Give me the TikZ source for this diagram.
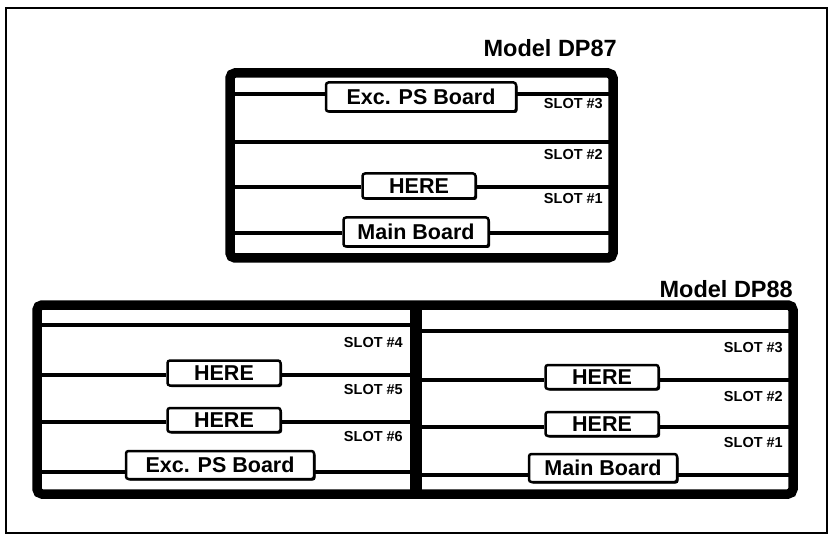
\documentclass[tikz,border=0pt]{standalone}
\usepackage{fontspec}
\setmainfont{Liberation Sans}
\usetikzlibrary{shadows}
\begin{document}
\begin{tikzpicture}[x=1pt,y=-1pt,
  frame/.style={line width=9.5pt,rounded corners=5pt},
  slotline/.style={line width=4pt},
  board/.style={draw,line width=2.5pt,fill=white,rounded corners=2.5pt,inner sep=0pt,
     font=\bfseries\fontsize{21.5}{21.5}\selectfont,
     general shadow={fill=black,shadow xshift=1.5pt,shadow yshift=-1.5pt}},
  slotlabel/.style={anchor=east,inner sep=0pt,font=\bfseries\fontsize{14.5}{14.5}\selectfont},
  title/.style={anchor=east,inner sep=0pt,font=\bfseries\fontsize{23.5}{23.5}\selectfont}]
\useasboundingbox (0,0) rectangle (832,537);
% outer thin frame
\draw[line width=2.5pt] (6,8) rectangle (827,533);

% ===== Model DP87 =====
\node[title] (t87) at (617,48) {Model DP87};
\draw[frame] (230,73) rectangle (613,258);
\coordinate (a87l) at (230,94);  \coordinate (a87r) at (613,94);
\coordinate (b87l) at (230,142); \coordinate (b87r) at (613,142);
\coordinate (c87l) at (230,187); \coordinate (c87r) at (613,187);
\coordinate (d87l) at (230,233); \coordinate (d87r) at (613,233);
\node[board,minimum width=190pt,minimum height=29pt] (exc87) at (421,97) {Exc. PS Board};
\node[board,minimum width=113pt,minimum height=25pt] (here87) at (419,186) {HERE};
\node[board,minimum width=145pt,minimum height=29pt] (main87) at (416,232) {Main Board};
\draw[slotline] (a87l) -- (exc87.west |- a87l);
\draw[slotline] (exc87.east |- a87r) -- (a87r);
\draw[slotline] (b87l) -- (b87r);
\draw[slotline] (c87l) -- (here87.west |- c87l);
\draw[slotline] (here87.east |- c87r) -- (c87r);
\draw[slotline] (d87l) -- (main87.west |- d87l);
\draw[slotline] (main87.east |- d87r) -- (d87r);
\node[slotlabel] (s873) at (603,104) {SLOT \#3};
\node[slotlabel] (s872) at (603,155) {SLOT \#2};
\node[slotlabel] (s871) at (603,199) {SLOT \#1};

% ===== Model DP88 =====
\node[title] (t88) at (793,289) {Model DP88};
\draw[frame] (37,305) rectangle (793,494);
\draw[line width=12pt] (416,305) -- (416,494);
% left half
\coordinate (a88l) at (37,325);  \coordinate (a88m) at (416,325);
\coordinate (b88l) at (37,375);  \coordinate (b88m) at (416,375);
\coordinate (c88l) at (37,422);  \coordinate (c88m) at (416,422);
\coordinate (d88l) at (37,472);  \coordinate (d88m) at (416,472);
\node[board,minimum width=113pt,minimum height=25pt] (here885) at (224,373) {HERE};
\node[board,minimum width=113pt,minimum height=24pt] (here886) at (224,420) {HERE};
\node[board,minimum width=188pt,minimum height=28pt] (exc88) at (220,465) {Exc. PS Board};
\draw[slotline] (a88l) -- (a88m);
\draw[slotline] (b88l) -- (here885.west |- b88l);
\draw[slotline] (here885.east |- b88m) -- (b88m);
\draw[slotline] (c88l) -- (here886.west |- c88l);
\draw[slotline] (here886.east |- c88m) -- (c88m);
\draw[slotline] (d88l) -- (exc88.west |- d88l);
\draw[slotline] (exc88.east |- d88m) -- (d88m);
\node[slotlabel] (s884) at (403,343) {SLOT \#4};
\node[slotlabel] (s885) at (403,390) {SLOT \#5};
\node[slotlabel] (s886) at (403,437) {SLOT \#6};
% right half
\coordinate (a88n) at (416,331);  \coordinate (a88r) at (793,331);
\coordinate (b88n) at (416,380);  \coordinate (b88r) at (793,380);
\coordinate (c88n) at (416,427);  \coordinate (c88r) at (793,427);
\coordinate (d88n) at (416,475);  \coordinate (d88r) at (793,475);
\node[board,minimum width=113pt,minimum height=24pt] (here882) at (602,377) {HERE};
\node[board,minimum width=113pt,minimum height=24pt] (here881) at (602,424) {HERE};
\node[board,minimum width=148pt,minimum height=28pt] (main88) at (603,468) {Main Board};
\draw[slotline] (a88n) -- (a88r);
\draw[slotline] (b88n) -- (here882.west |- b88n);
\draw[slotline] (here882.east |- b88r) -- (b88r);
\draw[slotline] (c88n) -- (here881.west |- c88n);
\draw[slotline] (here881.east |- c88r) -- (c88r);
\draw[slotline] (d88n) -- (main88.west |- d88n);
\draw[slotline] (main88.east |- d88r) -- (d88r);
\node[slotlabel] (s883) at (783,348) {SLOT \#3};
\node[slotlabel] (s882) at (783,397) {SLOT \#2};
\node[slotlabel] (s881) at (783,443) {SLOT \#1};
\end{tikzpicture}
\end{document}
